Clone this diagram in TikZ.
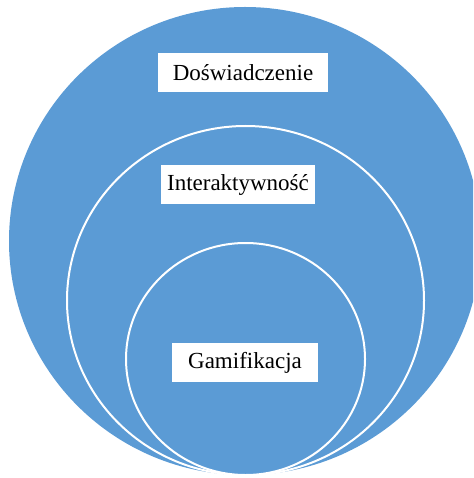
\documentclass[tikz,border=0pt]{standalone}
\usepackage{fontspec}
\setmainfont{Liberation Serif}
\usepackage{tikz}
\definecolor{ringblue}{HTML}{5B9BD5}

\begin{document}
\begin{tikzpicture}[x=1pt,y=-1pt,
    ring/.style={fill=ringblue,draw=white,line width=2pt},
    tag/.style={fill=white,inner sep=0pt,minimum height=39pt,font=\fontsize{23}{27}\selectfont}]
                \useasboundingbox (0,0) rectangle (473,478);
                \clip (0,0) rectangle (473,478);
                \fill[ringblue] (245,241) ellipse (236 and 234);
                \draw[ring] (245.5,300.5) ellipse (178.5 and 174.5);
                \draw[ring] (245.5,359) ellipse (119.5 and 116);
                \node[tag,minimum width=170pt] (dosw) at (243,72.5) {Doświadczenie};
                \node[tag,minimum width=154pt] (inter) at (238,184.5) {Interaktywność};
                \node[tag,minimum width=146pt] (gami) at (245,362.5) {Gamifikacja};
            \end{tikzpicture}
\end{document}
